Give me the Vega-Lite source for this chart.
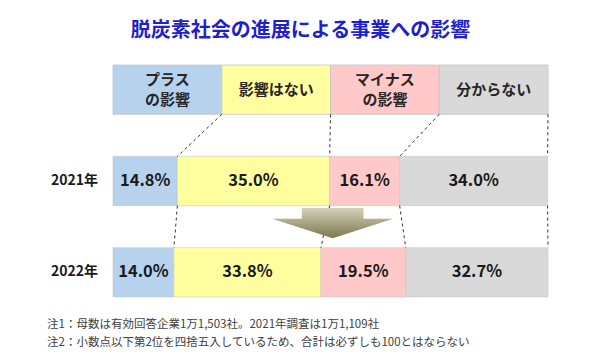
{
  "$schema": "https://vega.github.io/schema/vega-lite/v6.json",
  "width": 435,
  "height": 274,
  "autosize": "none",
  "padding": {"left": 113, "right": 42, "top": 44, "bottom": 44},
  "background": "white",
  "config": {"view": {"stroke": null}, "font": "Noto Sans CJK JP"},
  "title": {
    "text": "脱炭素社会の進展による事業への影響",
    "fontSize": 20,
    "fontWeight": "bold",
    "color": "#1f1fcc",
    "anchor": "middle",
    "dx": -30,
    "offset": 3
  },
  "datasets": {
    "header": [
      {"cat": "プラスの影響", "order": 1, "share": 0.25, "label": "プラス\nの影響"},
      {"cat": "影響はない", "order": 2, "share": 0.25, "label": "影響はない"},
      {"cat": "マイナスの影響", "order": 3, "share": 0.25, "label": "マイナス\nの影響"},
      {"cat": "分からない", "order": 4, "share": 0.25, "label": "分からない"}
    ],
    "results": [
      {"year": "2021年", "cat": "プラスの影響", "order": 1, "share": 0.148},
      {"year": "2021年", "cat": "影響はない", "order": 2, "share": 0.350},
      {"year": "2021年", "cat": "マイナスの影響", "order": 3, "share": 0.161},
      {"year": "2021年", "cat": "分からない", "order": 4, "share": 0.340},
      {"year": "2022年", "cat": "プラスの影響", "order": 1, "share": 0.140},
      {"year": "2022年", "cat": "影響はない", "order": 2, "share": 0.338},
      {"year": "2022年", "cat": "マイナスの影響", "order": 3, "share": 0.195},
      {"year": "2022年", "cat": "分からない", "order": 4, "share": 0.327}
    ],
    "links": [
      {"from": "header", "to": "2021年", "xa": 0.25, "xb": 0.148},
      {"from": "header", "to": "2021年", "xa": 0.50, "xb": 0.498},
      {"from": "header", "to": "2021年", "xa": 0.75, "xb": 0.659},
      {"from": "header", "to": "2021年", "xa": 1.00, "xb": 0.999},
      {"from": "2021年", "to": "2022年", "xa": 0.148, "xb": 0.140},
      {"from": "2021年", "to": "2022年", "xa": 0.498, "xb": 0.478},
      {"from": "2021年", "to": "2022年", "xa": 0.659, "xb": 0.673},
      {"from": "2021年", "to": "2022年", "xa": 0.999, "xb": 1.000}
    ],
    "notes": [
      {"note": "注1：母数は有効回答企業1万1,503社。2021年調査は1万1,109社\n注2：小数点以下第2位を四捨五入しているため、合計は必ずしも100とはならない"}
    ],
    "arrow": [{"from": "2021年", "to": "2022年", "mid": 0.505}]
  },
  "layer": [
    {
      "data": {"name": "header"},
      "transform": [{"stack": "share", "groupby": [], "sort": [{"field": "order"}], "as": ["x0", "x1"]}],
      "mark": {"type": "bar", "stroke": "#c4c4c4", "strokeWidth": 0.8},
      "encoding": {
        "x": {"field": "x0", "type": "quantitative", "scale": {"domain": [0, 1], "nice": false, "zero": false}, "axis": null},
        "x2": {"field": "x1"},
        "y": {"datum": "header", "type": "ordinal", "scale": {"domain": ["header", "2021年", "2022年"], "paddingInner": 0.46, "paddingOuter": 0.23}, "axis": null},
        "color": {"field": "cat", "type": "nominal", "scale": {"domain": ["プラスの影響", "影響はない", "マイナスの影響", "分からない"], "range": ["#b7d2ec", "#ffff9f", "#ffc9c9", "#d9d9d9"]}, "legend": null}
      }
    },
    {
      "data": {"name": "header"},
      "transform": [
        {"stack": "share", "groupby": [], "sort": [{"field": "order"}], "as": ["x0", "x1"]},
        {"calculate": "(datum.x0 + datum.x1) / 2", "as": "xm"},
        {"filter": "datum.order === 2 || datum.order === 4"}
      ],
      "mark": {"type": "text", "fontSize": 15, "fontWeight": "bold", "color": "#262626", "baseline": "middle"},
      "encoding": {
        "x": {"field": "xm", "type": "quantitative"},
        "y": {"datum": "header", "type": "ordinal"},
        "text": {"field": "label"}
      }
    },
    {
      "data": {"name": "header"},
      "transform": [
        {"stack": "share", "groupby": [], "sort": [{"field": "order"}], "as": ["x0", "x1"]},
        {"calculate": "(datum.x0 + datum.x1) / 2", "as": "xm"},
        {"filter": "datum.order === 1 || datum.order === 3"}
      ],
      "mark": {"type": "text", "fontSize": 15, "fontWeight": "bold", "color": "#262626", "lineBreak": "\n", "lineHeight": 20, "baseline": "middle", "dy": -10},
      "encoding": {
        "x": {"field": "xm", "type": "quantitative"},
        "y": {"datum": "header", "type": "ordinal"},
        "text": {"field": "label"}
      }
    },
    {
      "data": {"name": "results"},
      "transform": [{"stack": "share", "groupby": ["year"], "sort": [{"field": "order"}], "as": ["x0", "x1"]}],
      "mark": {"type": "bar", "stroke": "#c8c8c8", "strokeWidth": 0.6},
      "encoding": {
        "x": {"field": "x0", "type": "quantitative"},
        "x2": {"field": "x1"},
        "y": {"field": "year", "type": "ordinal"},
        "color": {"field": "cat", "type": "nominal"}
      }
    },
    {
      "data": {"name": "results"},
      "transform": [
        {"stack": "share", "groupby": ["year"], "sort": [{"field": "order"}], "as": ["x0", "x1"]},
        {"calculate": "(datum.x0 + datum.x1) / 2", "as": "xm"}
      ],
      "mark": {"type": "text", "fontSize": 16.5, "fontWeight": "bold", "color": "#1a1a1a", "baseline": "middle"},
      "encoding": {
        "x": {"field": "xm", "type": "quantitative"},
        "y": {"field": "year", "type": "ordinal"},
        "text": {"field": "share", "type": "quantitative", "format": ".1%"}
      }
    },
    {
      "data": {"name": "results"},
      "transform": [{"filter": "datum.order === 1"}],
      "mark": {"type": "text", "fontSize": 14, "fontWeight": "bold", "color": "#1a1a1a", "align": "right", "baseline": "middle", "dx": -15},
      "encoding": {
        "x": {"datum": 0, "type": "quantitative"},
        "y": {"field": "year", "type": "ordinal"},
        "text": {"field": "year"}
      }
    },
    {
      "data": {"name": "links"},
      "mark": {"type": "rule", "color": "#333333", "strokeWidth": 1, "strokeDash": [3, 3], "yOffset": 24.6, "y2Offset": -24.6},
      "encoding": {
        "x": {"field": "xa", "type": "quantitative"},
        "x2": {"field": "xb"},
        "y": {"field": "from", "type": "ordinal"},
        "y2": {"field": "to"}
      }
    },
    {
      "data": {"name": "arrow"},
      "mark": {
        "type": "point",
        "filled": true,
        "opacity": 1,
        "shape": "M -0.51 -0.25 L 0.51 -0.25 L 0.51 -0.07 L 1 -0.07 L 0 0.25 L -1 -0.07 L -0.51 -0.07 Z",
        "size": 14641,
        "yOffset": 42,
        "fill": {"gradient": "linear", "x1": 0, "y1": 0, "x2": 0, "y2": 1, "stops": [{"offset": 0, "color": "#d4d1ba"}, {"offset": 1, "color": "#7d784f"}]}
      },
      "encoding": {
        "x": {"field": "mid", "type": "quantitative"},
        "y": {"field": "from", "type": "ordinal"}
      }
    },
    {
      "data": {"name": "notes"},
      "mark": {"type": "text", "fontSize": 11.5, "color": "#404040", "align": "left", "baseline": "top", "lineBreak": "\n", "lineHeight": 18.3, "dx": -66, "dy": 46.7},
      "encoding": {
        "x": {"datum": 0, "type": "quantitative"},
        "y": {"datum": "2022年", "type": "ordinal"},
        "text": {"field": "note"}
      }
    }
  ]
}
